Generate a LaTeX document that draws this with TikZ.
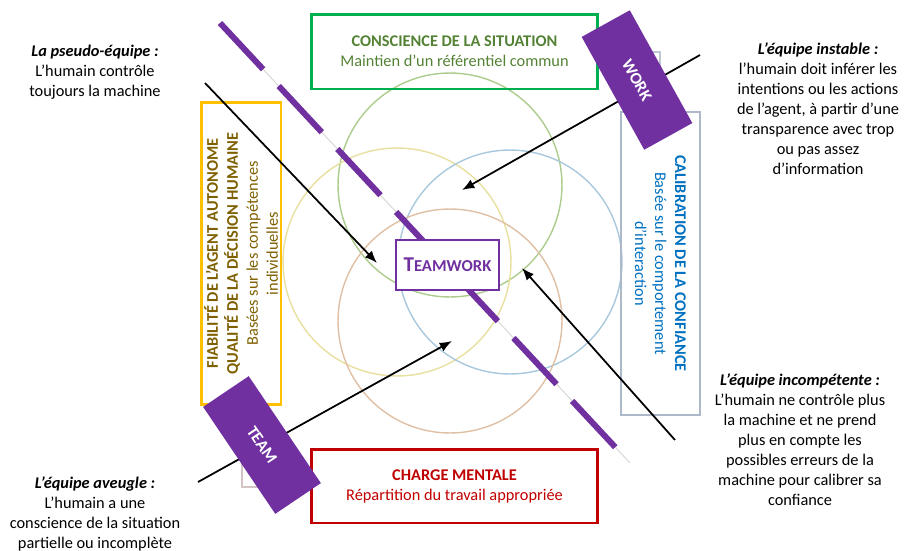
\documentclass[tikz,border=0pt]{standalone}
\usepackage{fontspec}
\setmainfont{Carlito}
\usetikzlibrary{arrows.meta,positioning,shapes}
\definecolor{boxgreen}{RGB}{0,176,80}
\definecolor{txtgreen}{RGB}{84,130,53}
\definecolor{boxred}{RGB}{192,0,0}
\definecolor{boxgold}{RGB}{255,192,0}
\definecolor{txtgold}{RGB}{127,96,0}
\definecolor{boxsteel}{RGB}{173,185,202}
\definecolor{txtblue}{RGB}{0,112,192}
\definecolor{teampurple}{RGB}{112,48,160}
\definecolor{ringgreen}{RGB}{172,204,142}
\definecolor{ringyellow}{RGB}{232,224,160}
\definecolor{ringblue}{RGB}{168,200,222}
\definecolor{ringtan}{RGB}{224,192,164}
\tikzset{
    semithick,
    frame/.style ={draw, line width=1.7pt, align=center, inner sep=0pt,
                   font=\fontsize{9.3}{11.4}\selectfont},
    ring/.style  ={line width=0.8pt},
    split/.style ={teampurple, line width=3.4pt, dash pattern=on 36pt off 13pt},
    tag/.style   ={fill=teampurple, text=white, inner sep=0pt,
                   minimum width=2.58cm, minimum height=1.1cm,
                   font=\fontsize{9.5}{11}\selectfont\bfseries},
    arr/.style   ={-{Latex[length=7pt,width=5.5pt]}, line width=1pt},
    ghost/.style ={line width=1pt},
    txt/.style   ={align=center, inner sep=0pt, font=\fontsize{9.3}{11.4}\selectfont}
}

\begin{document}
\begin{tikzpicture}[x=0.02cm, y=-0.02cm]
        \useasboundingbox (0,0) rectangle (906,551);
        % Four overlapping circles
        \draw[ring, draw=ringgreen] (450,185) circle [radius=2.24cm];
        \draw[ring, draw=ringyellow] (397,262) circle [radius=2.28cm];
        \draw[ring, draw=ringblue] (510,262) circle [radius=2.24cm];
        \draw[ring, draw=ringtan] (450,321) circle [radius=2.24cm];
        % Diagonal separation
        \coordinate (cutstart) at (220,23);
        \coordinate (cutend) at (630,463);
        \draw[gray!30, line width=0.6pt] (cutstart) -- (cutend);
        \draw[split] (cutstart) -- (cutend);
        % Frames
        \node[frame, draw=boxgreen, text=txtgreen, minimum width=5.74cm, minimum height=1.5cm]
            (aware) at (454.5,51.5) {\textbf{CONSCIENCE DE LA SITUATION}\\Maintien d’un référentiel commun};
        \node[frame, draw=boxred, text=boxred, minimum width=5.74cm, minimum height=1.48cm]
            (load) at (454.5,486) {\textbf{CHARGE MENTALE}\\Répartition du travail appropriée};
        \node[frame, draw=boxgold, text=txtgold, rotate=90, minimum width=6.06cm, minimum height=1.6cm]
            (reliab) at (241,253.5) {\textbf{FIABILITÉ DE L’AGENT AUTONOME}\\\textbf{QUALITÉ DE LA DÉCISION HUMAINE}\\Basées sur les compétences\\individuelles};
        \node[frame, draw=boxsteel, line width=1.2pt, text=txtblue, rotate=-90, minimum width=6.06cm, minimum height=1.58cm]
            (trust) at (660.5,263.5) {\textbf{CALIBRATION DE LA CONFIANCE}\\Basée sur le comportement\\d’interaction};
        % Frames hidden behind the tags
        \draw[ghost, draw=boxsteel!80] (615,52) rectangle (660,88);
        \draw[ghost, draw=red!15!gray!40] (242,440) rectangle (285,487);
        % Team failures
        \coordinate (pseudo) at (205,83);
        \coordinate (pseudoend) at (377,263);
        \coordinate (unstable) at (700,55);
        \coordinate (unstableend) at (462,190);
        \coordinate (unfit) at (675,440);
        \coordinate (unfitend) at (522,268);
        \coordinate (blind) at (198,482);
        \coordinate (blindend) at (452,341);
        \path (pseudo) edge[arr] (pseudoend);
        \path (unstable) edge[arr] (unstableend);
        \path (unfit) edge[arr] (unfitend);
        \path (blind) edge[arr] (blindend);
        % Centre
        \node[draw=teampurple, line width=1.2pt, fill=white, text=teampurple, minimum width=2.06cm, minimum height=1cm]
            (teamwork) at (447.5,265) {\bfseries{\fontsize{12}{14}\selectfont T}{\fontsize{9.5}{11}\selectfont EAMWORK}};
        \node[tag, rotate=-61] (work) at (637,80) {WORK};
        \node[tag, rotate=-56] (team) at (262,445) {TEAM};
        % Comments
        \node[txt] (pseudotxt) at (95,72) {\textbf{\textit{La pseudo-équipe :}}\\L’humain contrôle\\toujours la machine};
        \node[txt] (unstabletxt) at (818,109) {\textbf{\textit{L’équipe instable :}}\\l’humain doit inférer les\\intentions ou les actions\\de l’agent, à partir d’une\\transparence avec trop\\ou pas assez\\d’information};
        \node[txt] (unfittxt) at (800,440) {\textbf{\textit{L’équipe incompétente :}}\\L’humain ne contrôle plus\\la machine et ne prend\\plus en compte les\\possibles erreurs de la\\machine pour calibrer sa\\confiance};
        \node[txt] (blindtxt) at (95,514) {\textbf{\textit{L’équipe aveugle :}}\\L’humain a une\\conscience de la situation\\partielle ou incomplète};
    \end{tikzpicture}
\end{document}
